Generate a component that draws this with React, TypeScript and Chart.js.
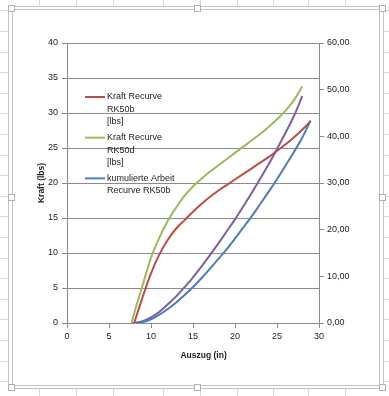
import React, { useEffect, useRef } from "react";
import { Chart, registerables } from "chart.js";

Chart.register(...registerables);

// Auszug (in) sample positions
const auszugRK50b = [8.0, 9, 10, 11, 12, 13, 14, 15, 16, 17, 18, 19, 20, 21, 22, 23, 24, 25, 26, 27, 28, 29];
const auszugRK50d = [7.7, 8, 9, 10, 11, 12, 13, 14, 15, 16, 17, 18, 19, 20, 21, 22, 23, 24, 25, 26, 27, 28];

// Kraft (lbs) - left axis
const kraftRK50b = [0, 3.7, 7.1, 9.8, 11.9, 13.5, 14.7, 15.9, 17.0, 18.0, 18.9, 19.7, 20.5, 21.3, 22.1, 22.9, 23.7, 24.6, 25.5, 26.5, 27.6, 28.8];
const kraftRK50d = [0, 1.4, 5.4, 9.3, 12.2, 14.6, 16.5, 18.2, 19.5, 20.6, 21.6, 22.5, 23.4, 24.3, 25.2, 26.1, 27.0, 28.0, 29.1, 30.3, 31.8, 33.8];

// kumulierte Arbeit - right axis
const arbeitRK50b = [0, 0.2, 0.8, 1.8, 3.0, 4.4, 6.0, 7.7, 9.6, 11.6, 13.7, 15.8, 18.1, 20.5, 22.9, 25.5, 28.1, 30.8, 33.7, 36.6, 39.7, 43.4];
const arbeitRK50d = [0, 0.02, 0.4, 1.2, 2.4, 4.0, 5.7, 7.7, 9.8, 12.1, 14.5, 17.0, 19.6, 22.2, 25.0, 27.9, 30.9, 34.0, 37.3, 40.7, 44.3, 48.6];

const seriesNames = [
  ["Kraft Recurve", "RK50b", "[lbs]"],
  ["Kraft Recurve", "RK50d", "[lbs]"],
  ["kumulierte Arbeit", "Recurve RK50b"],
  ["kumulierte Arbeit", "Recurve RK50d"],
];
const seriesColors = ["#BE4B48", "#9BBB59", "#4A7EBB", "#7D60A0"];
const legendShown = [true, true, true, false];

const xTitle = "Auszug (in)";
const yTitle = "Kraft (lbs)";

const FONT = "'Liberation Sans', Arial, sans-serif";
const TEXT = "#1c1c1c";
const GRID = "#8a8a8a";

const pts = (xs: number[], ys: number[]) => xs.map((x, i) => ({ x, y: ys[i] }));

const sheetPlugin = {
  id: "sheetBg",
  beforeDraw(chart: any) {
    const ctx = chart.ctx as CanvasRenderingContext2D;
    const W = chart.width, H = chart.height;
    ctx.save();
    ctx.fillStyle = "#ffffff";
    ctx.fillRect(0, 0, W, H);
    ctx.strokeStyle = "#d6d8da";
    ctx.lineWidth = 1;
    const cols = [39, 76, 113, 163, 200, 237, 273, 308, 345];
    for (const c of cols) {
      ctx.beginPath();
      ctx.moveTo(c + 0.5, 0);
      ctx.lineTo(c + 0.5, H);
      ctx.stroke();
    }
    for (let y = 10.4; y < H; y += 20.6) {
      ctx.beginPath();
      ctx.moveTo(0, Math.round(y) + 0.5);
      ctx.lineTo(W, Math.round(y) + 0.5);
      ctx.stroke();
    }
    // chart object frame
    ctx.fillStyle = "#ffffff";
    ctx.fillRect(8, 6, 376, 383);
    ctx.strokeStyle = "#c4c4c4";
    ctx.strokeRect(8.5, 6.5, 375, 382);
    ctx.strokeRect(12.5, 9.5, 367, 376);
    const hs = [
      [10.5, 8], [196.5, 8], [381.5, 8],
      [10.5, 196.5], [381.5, 196.5],
      [10.5, 387], [196.5, 387], [381.5, 387],
    ];
    for (const [hx, hy] of hs) {
      ctx.fillStyle = "#ffffff";
      ctx.fillRect(Math.round(hx - 3), Math.round(hy - 3), 6, 6);
      ctx.strokeStyle = "#b0b0b0";
      ctx.strokeRect(Math.round(hx - 3) + 0.5, Math.round(hy - 3) + 0.5, 6, 6);
    }
    ctx.restore();
  },
  afterDraw(chart: any) {
    const ctx = chart.ctx as CanvasRenderingContext2D;
    const ca = chart.chartArea;
    ctx.save();
    // x axis title
    ctx.fillStyle = TEXT;
    ctx.font = `bold 8.5px ${FONT}`;
    ctx.textAlign = "center";
    ctx.textBaseline = "middle";
    ctx.fillText(xTitle, ca.left + (ca.right - ca.left) * 0.542, ca.bottom + 33);
    // legend inside plot
    const lx = 85, lineLen = 20, tx = 107, lh = 12.4;
    let ly = 97;
    ctx.font = `9px ${FONT}`;
    ctx.textAlign = "left";
    chart.data.datasets.forEach((ds: any, i: number) => {
      if (!legendShown[i]) return;
      ctx.strokeStyle = ds.borderColor;
      ctx.lineWidth = 2;
      ctx.beginPath();
      ctx.moveTo(lx, ly);
      ctx.lineTo(lx + lineLen, ly);
      ctx.stroke();
      ctx.fillStyle = TEXT;
      seriesNames[i].forEach((t, k) => ctx.fillText(t, tx, ly + k * lh));
      ly += seriesNames[i].length * lh + 3.5;
    });
    ctx.restore();
  },
};

export default function App() {
  const ref = useRef<HTMLCanvasElement | null>(null);
  useEffect(() => {
    if (!ref.current) return;
    const tickFont = { family: FONT, size: 9 };
    const chart = new Chart(ref.current, {
      type: "line",
      data: {
        datasets: [
          { label: seriesNames[0].join(" "), data: pts(auszugRK50b, kraftRK50b), borderColor: seriesColors[0], yAxisID: "y" },
          { label: seriesNames[1].join(" "), data: pts(auszugRK50d, kraftRK50d), borderColor: seriesColors[1], yAxisID: "y" },
          { label: seriesNames[2].join(" "), data: pts(auszugRK50b, arbeitRK50b), borderColor: seriesColors[2], yAxisID: "y1" },
          { label: seriesNames[3].join(" "), data: pts(auszugRK50d, arbeitRK50d), borderColor: seriesColors[3], yAxisID: "y1" },
        ],
      },
      options: {
        animation: false,
        responsive: false,
        events: [],
        layout: { padding: { top: 43, left: 0, right: 0, bottom: 0 } },
        elements: {
          point: { radius: 0 },
          line: { borderWidth: 2, tension: 0.4, cubicInterpolationMode: "monotone", fill: false },
        },
        plugins: { legend: { display: false }, tooltip: { enabled: false }, title: { display: false } },
        scales: {
          x: {
            type: "linear",
            min: 0,
            max: 30,
            ticks: { stepSize: 5, font: tickFont, color: TEXT, padding: 3, maxRotation: 0 },
            grid: { drawOnChartArea: false, drawTicks: true, tickLength: 5, color: GRID },
            border: { color: GRID },
            afterFit: (s: any) => { s.height = 73; },
          },
          y: {
            type: "linear",
            position: "left",
            min: 0,
            max: 40,
            ticks: { stepSize: 5, font: tickFont, color: TEXT, padding: 4 },
            grid: { color: GRID, tickLength: 5 },
            border: { color: GRID },
            title: { display: true, text: yTitle, color: TEXT, font: { family: FONT, size: 8.5, weight: "bold" }, padding: { top: 37, bottom: 0 } },
            afterFit: (s: any) => { s.width = 67; },
          },
          y1: {
            type: "linear",
            position: "right",
            min: 0,
            max: 60,
            ticks: {
              stepSize: 10,
              font: tickFont,
              color: TEXT,
              padding: 3,
              callback: (v: any) => Number(v).toFixed(2).replace(".", ","),
            },
            grid: { drawOnChartArea: false, tickLength: 5, color: GRID },
            border: { color: GRID },
            afterFit: (s: any) => { s.width = 70; },
          },
        },
      } as any,
      plugins: [sheetPlugin],
    });
    return () => chart.destroy();
  }, []);
  return (
    <div style={{ position: "fixed", left: 0, top: 0, width: 389, height: 396, background: "#fff" }}>
      <canvas ref={ref} width={389} height={396} style={{ display: "block", width: 389, height: 396 }} />
    </div>
  );
}
